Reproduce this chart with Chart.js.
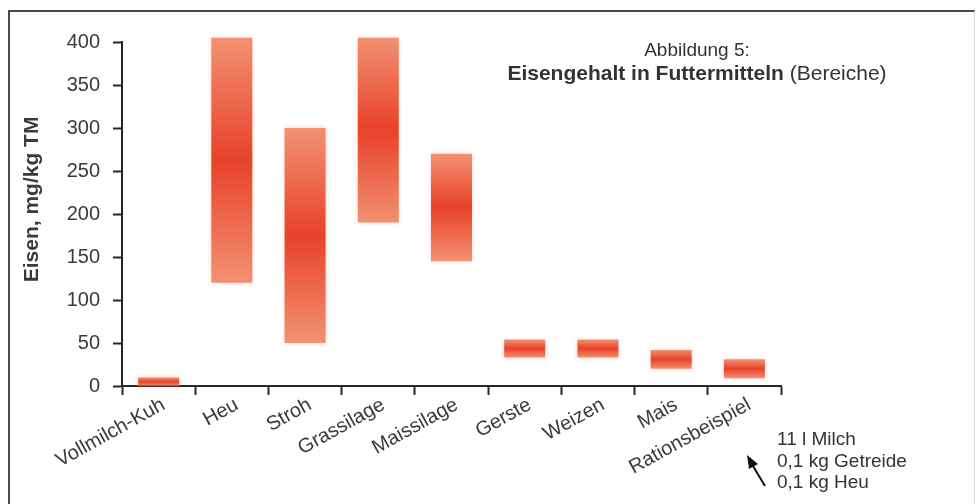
<!DOCTYPE html>
<html>
<head>
<meta charset="utf-8">
<script src="https://cdn.jsdelivr.net/npm/chart.js@4.4.0/dist/chart.umd.min.js"></script>
<style>
html,body{margin:0;padding:0;background:#fff;}
#wrap{position:relative;width:980px;height:504px;overflow:hidden;font-family:"Liberation Sans",Arial,sans-serif;color:#333;}
#c{position:absolute;left:0;top:0;}
#frame{position:absolute;left:8px;top:10px;width:967px;height:600px;border-top:2px solid #4a4a4a;border-left:2px solid #4a4a4a;border-right:1px solid #d8d8d8;box-sizing:border-box;}
.txt{position:absolute;white-space:nowrap;}
#t1{left:597px;width:200px;text-align:center;top:40px;font-size:19px;line-height:19px;}
#t2{left:447px;width:500px;text-align:center;top:62px;font-size:21px;line-height:21px;}
#t2 b{font-weight:bold;}
.note{left:777px;font-size:19px;line-height:19px;}
</style>
</head>
<body>
<div id="wrap">
  <div id="frame"></div>
  <canvas id="c" width="980" height="504"></canvas>
  <div class="txt" id="t1">Abbildung 5:</div>
  <div class="txt" id="t2"><b>Eisengehalt in Futtermitteln</b> (Bereiche)</div>
  <div class="txt note" style="top:429px">11 l Milch</div>
  <div class="txt note" style="top:451px">0,1 kg Getreide</div>
  <div class="txt note" style="top:472px">0,1 kg Heu</div>
  <svg style="position:absolute;left:0;top:0" width="980" height="504">
    <line x1="753" y1="466" x2="765" y2="486" stroke="#111" stroke-width="2"/>
    <polygon points="747,455 758,464 749,469" fill="#111"/>
  </svg>
</div>
<script>
// Data
const categories = ['Vollmilch-Kuh','Heu','Stroh','Grassilage','Maissilage','Gerste','Weizen','Mais','Rationsbeispiel'];
const rangeLow  = [0, 120, 50, 190, 145, 33, 33, 20, 9];
const rangeHigh = [10, 405, 300, 405, 270, 54, 54, 42, 31];
const yTickMin = 0, yTickMax = 400, yTickStep = 50;
const yTitle = 'Eisen, mg/kg TM';

const LIGHT = '#F29172';
const DARK  = '#E8422A';
const AXIS  = '#262626';
const TEXT  = '#3a3a3a';

const ranges = categories.map((c, i) => [rangeLow[i], rangeHigh[i]]);

function barFill(ctx) {
  const chart = ctx.chart;
  if (ctx.type !== 'data' || !chart.chartArea) return DARK;
  const y = chart.scales.y;
  const r = ctx.raw;
  const top = y.getPixelForValue(r[1]);
  const bot = y.getPixelForValue(r[0]);
  if (!isFinite(top) || !isFinite(bot) || top === bot) return DARK;
  const g = chart.ctx.createLinearGradient(0, top, 0, bot);
  g.addColorStop(0, LIGHT);
  g.addColorStop(0.5, DARK);
  g.addColorStop(1, LIGHT);
  return g;
}

const glow = {
  id: 'glow',
  beforeDatasetsDraw(chart) {
    const c = chart.ctx; c.save();
    c.shadowColor = 'rgba(242,140,105,0.45)';
    c.shadowBlur = 5;
  },
  afterDatasetsDraw(chart) { chart.ctx.restore(); }
};

new Chart(document.getElementById('c'), {
  type: 'bar',
  data: {
    labels: categories,
    datasets: [{
      data: ranges,
      backgroundColor: barFill,
      borderWidth: 0,
      borderSkipped: false,
      categoryPercentage: 1,
      barPercentage: 0.56,
      clip: false
    }]
  },
  options: {
    responsive: false,
    animation: false,
    layout: { padding: { left: 10, top: 42, right: 199, bottom: 0 } },
    plugins: { legend: { display: false }, tooltip: { enabled: false }, title: { display: false } },
    scales: {
      x: {
        offset: true,
        grid: { display: true, drawOnChartArea: false, offset: true, drawTicks: true, tickLength: 9, tickColor: AXIS, tickWidth: 2 },
        border: { display: true, color: AXIS, width: 2 },
        ticks: { autoSkip: false, minRotation: 29, maxRotation: 29, padding: -2, labelOffset: 5, color: TEXT,
                 font: { family: '"Liberation Sans", Arial, sans-serif', size: 20 } },
        afterFit(scale) { scale.height = 118; }
      },
      y: {
        min: yTickMin, max: yTickMax,
        grid: { display: true, drawOnChartArea: false, drawTicks: true, tickLength: 9, tickColor: AXIS, tickWidth: 2 },
        border: { display: true, color: AXIS, width: 2 },
        ticks: { stepSize: yTickStep, padding: 13, color: TEXT,
                 font: { family: '"Liberation Sans", Arial, sans-serif', size: 20 } },
        title: { display: true, text: '     ' + yTitle, color: TEXT, padding: { top: 10, bottom: 0 },
                 font: { family: '"Liberation Sans", Arial, sans-serif', size: 21, weight: 'bold' } },
        afterFit(scale) { scale.width = 112; }
      }
    }
  },
  plugins: [glow]
});
</script>
</body>
</html>
